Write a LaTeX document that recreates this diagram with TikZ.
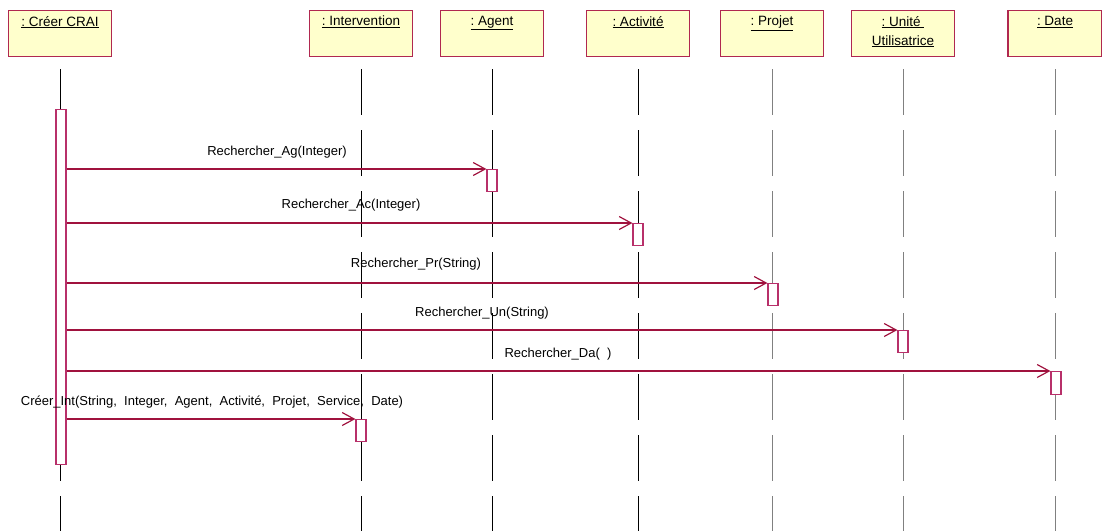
\documentclass[tikz,border=0pt]{standalone}
\usepackage{fontspec}
\setmainfont{Liberation Sans}
\usetikzlibrary{arrows.meta}
\definecolor{boxfill}{HTML}{FFFFCC}
\definecolor{boxline}{HTML}{B02850}
\definecolor{msg}{HTML}{A0123E}
\definecolor{actline}{HTML}{B8306A}
\definecolor{lifegray}{HTML}{808080}
\tikzset{
  obj/.style={draw=boxline, fill=boxfill, line width=1.2pt, minimum width=96pt, minimum height=46pt, anchor=north, inner sep=0pt},
  objtxt/.style={anchor=north, inner sep=0pt, align=center, font=\fontsize{13.5}{19}\selectfont},
  life/.style={line width=0.9pt, dash pattern=on 46pt off 15pt},
  act/.style={draw=actline, fill=white, line width=1.2pt, minimum width=10pt, minimum height=22pt, anchor=north, inner sep=0pt},
  msgline/.style={draw=msg, line width=1.2pt, -{Straight Barb[length=12pt,width=13pt,line width=1.2pt]}},
  msgtxt/.style={inner sep=0pt, font=\fontsize{13}{15}\selectfont}
}
\begin{document}
\begin{tikzpicture}[x=1pt,y=-1pt]
\useasboundingbox (0,0) rectangle (1102,531);
% object boxes
\node[obj, minimum width=103pt] (crai) at (60,10) {};
\node[obj, minimum width=103pt] (int) at (361,10) {};
\node[obj, minimum width=103pt] (ag) at (492,10) {};
\node[obj, minimum width=103pt] (acti) at (638,10) {};
\node[obj, minimum width=103pt] (proj) at (772,10) {};
\node[obj, minimum width=103pt] (unit) at (903,10) {};
\node[obj, minimum width=94pt] (date) at (1055,10) {};
\node[objtxt] (craiT) at ([yshift=-6pt]crai.north) {\underline{:\ Créer CRAI}};
\node[objtxt] (intT) at ([yshift=-6pt]int.north) {\underline{:\ Intervention}};
\node[objtxt] (agT) at ([yshift=-6pt]ag.north) {\underline{:\ Agent}};
\node[objtxt] (actiT) at ([yshift=-6pt]acti.north) {\underline{:\ Activité}};
\node[objtxt] (projT) at ([yshift=-6pt]proj.north) {\underline{:\ Projet}};
\node[objtxt] (unitT) at ([yshift=-6pt]unit.north) {\underline{:\ Unité\ }\\[0pt]\underline{Utilisatrice}};
\node[objtxt] (dateT) at ([yshift=-6pt]date.north) {\underline{:\ Date}};
% lifeline ends
\coordinate (craiE) at (60,531);
\coordinate (intE) at (361,531);
\coordinate (agE) at (492,531);
\coordinate (actiE) at (638,531);
\coordinate (projE) at (772,531);
\coordinate (unitE) at (903,531);
\coordinate (dateE) at (1055,531);
\draw[life, black] ([yshift=-12pt]crai.south) -- (craiE);
\draw[life, black] ([yshift=-12pt]int.south) -- (intE);
\draw[life, black] ([yshift=-12pt]ag.south) -- (agE);
\draw[life, black] ([yshift=-12pt]acti.south) -- (actiE);
\draw[life, lifegray] ([yshift=-12pt]proj.south) -- (projE);
\draw[life, lifegray] ([yshift=-12pt]unit.south) -- (unitE);
\draw[life, lifegray] ([yshift=-12pt]date.south) -- (dateE);
% activations
\node[act, minimum height=355pt] (craiA) at (61,109) {};
\node[act] (agA) at (492,169) {};
\node[act] (actiA) at (638,223) {};
\node[act] (projA) at (773,283) {};
\node[act] (unitA) at (903,330) {};
\node[act, minimum height=23pt] (dateA) at (1056,371) {};
\node[act] (intA) at (361,419) {};
% messages
\draw[msgline] (craiA.east |- agA.north west) -- (agA.north west);
\draw[msgline] (craiA.east |- actiA.north west) -- (actiA.north west);
\draw[msgline] (craiA.east |- projA.north west) -- (projA.north west);
\draw[msgline] (craiA.east |- unitA.north west) -- (unitA.north west);
\draw[msgline] (craiA.east |- dateA.north west) -- (dateA.north west);
\draw[msgline] (craiA.east |- intA.north west) -- (intA.north west);
% labels
\node[msgtxt] (l1) at (277,152) {Rechercher\_Ag(Integer)};
\node[msgtxt] (l2) at (351,205) {Rechercher\_Ac(Integer)};
\node[msgtxt] (l3) at (416,264) {Rechercher\_Pr(String)};
\node[msgtxt] (l4) at (482,313) {Rechercher\_Un(String)};
\node[msgtxt] (l5) at (558,354) {Rechercher\_Da(\ \ )};
\node[msgtxt] (l6) at (212,402) {Créer\_Int(String,\ \ Integer,\ \ Agent,\ \ Activité,\ \ Projet,\ \ Service,\ \ Date)};
\end{tikzpicture}
\end{document}
